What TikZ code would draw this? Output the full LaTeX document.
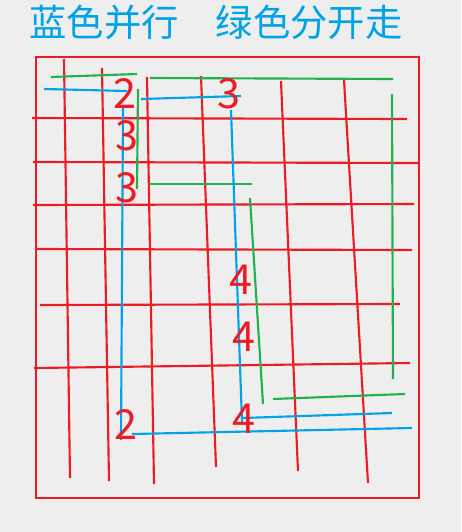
\documentclass[tikz,border=0pt]{standalone}
\usepackage{fontspec}
\newfontfamily\cjk{Noto Sans CJK SC}
\definecolor{bg}{RGB}{238,238,238}
\definecolor{pred}{RGB}{237,28,36}
\definecolor{pgreen}{RGB}{34,177,76}
\definecolor{pblue}{RGB}{0,162,232}
\tikzset{
  redline/.style={draw=pred,line width=1.6pt},
  greenline/.style={draw=pgreen,line width=1.6pt},
  blueline/.style={draw=pblue,line width=1.6pt},
  num/.style={text=pred,font=\cjk\fontsize{31}{31}\selectfont,inner sep=0pt},
}
\begin{document}
\begin{tikzpicture}[x=0.75pt,y=-0.75pt]
\fill[bg] (0,0) rectangle (461,532);
\useasboundingbox (0,0) rectangle (461,532);
\node[text=pblue,font=\cjk\fontsize{28}{28}\selectfont,inner sep=0pt] (title) at (216,22) {蓝色并行　绿色分开走};
% red frame
\draw[redline] (36,57) rectangle (419,498);
% red horizontals
\draw[redline] (32,118) -- (407,119);
\draw[redline] (33,162) -- (419,163);
\draw[redline] (33,205) -- (414,204);
\draw[redline] (36,249) -- (412,250);
\draw[redline] (40,305) -- (400,304);
\draw[redline] (34,368) -- (410,363);
% red verticals
\draw[redline] (64,59) -- (70,478);
\draw[redline] (102,68) -- (109,481);
\draw[redline] (147,77) -- (154,484);
\draw[redline] (201,76) -- (216,467);
\draw[redline] (281,81) -- (298,471);
\draw[redline] (344,80) -- (368,483);
% green
\draw[greenline] (51,77) -- (137,74);
\draw[greenline] (150,78) -- (393,79);
\draw[greenline] (138,89) -- (137,189);
\draw[greenline] (149,184) -- (252,184);
\draw[greenline] (250,198) -- (263,404);
\draw[greenline] (392,94) -- (393,379);
\draw[greenline] (273,399) -- (405,394);
% blue
\draw[blueline] (44,89) -- (127,91);
\draw[blueline] (141,99) -- (241,96);
\draw[blueline] (123,107) -- (121,440);
\draw[blueline] (231,110) -- (242,422);
\draw[blueline] (243,418) -- (392,413);
\draw[blueline] (132,434) -- (412,428);
% numbers
\node[num] (n1) at (125,93) {2};
\node[num] (n2) at (229,94) {3};
\node[num] (n3) at (127,136) {3};
\node[num] (n4) at (127,188) {3};
\node[num] (n5) at (241,280) {4};
\node[num] (n6) at (244,337) {4};
\node[num] (n7) at (244,419) {4};
\node[num] (n8) at (126,424) {2};
\end{tikzpicture}
\end{document}
